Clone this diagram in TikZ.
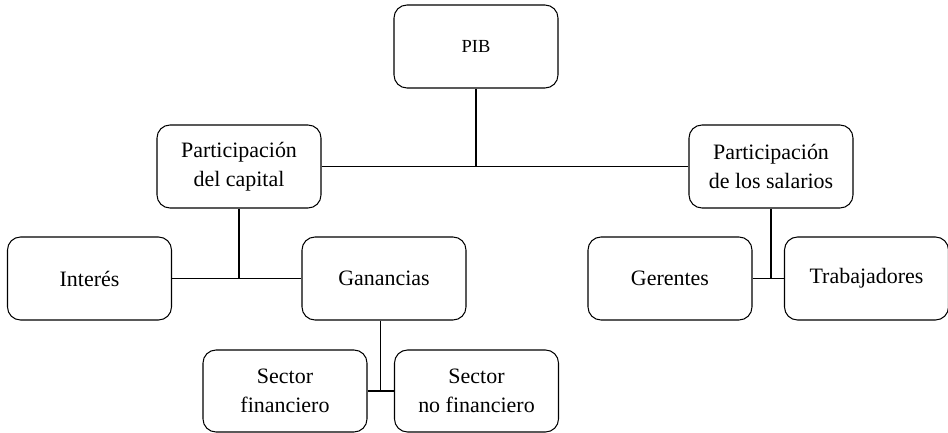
\documentclass[tikz,border=0pt]{standalone}
\usepackage{fontspec}
\setmainfont{Liberation Serif}
\usetikzlibrary{calc}

\begin{document}
\begin{tikzpicture}[
    caja/.style={draw, line width=0.6pt, rounded corners=0.26cm,
      minimum width=3.28cm, minimum height=1.66cm, align=center,
      inner sep=2pt, font=\fontsize{12.5}{16.5}\selectfont},
    enlace/.style={line width=0.6pt}
  ]
  \useasboundingbox (0,0) rectangle (18.96,-8.66);

  \node[caja] (pib) at (9.52,-0.93) {\fontsize{10.5}{12}\selectfont PIB};

  \node[caja] (capital) at (4.78,-3.33) {Participación\\del capital};
  \node[caja] (salarios) at (15.42,-3.33) {Participación\\de los salarios};

  \node[caja] (interes) at (1.79,-5.57) {Interés};
  \node[caja] (ganancias) at (7.68,-5.57) {Ganancias};
  \node[caja] (gerentes) at (13.40,-5.57) {Gerentes};
  \node[caja] (trabajadores) at (17.33,-5.57) {Trabajadores};

  \node[caja, minimum height=1.64cm] (financiero) at (5.70,-7.82) {Sector\\financiero};
  \node[caja, minimum height=1.64cm] (nofinanciero) at (9.53,-7.82) {Sector\\no financiero};

  \draw[enlace] (capital) -- (salarios);
  \draw[enlace] (pib) -- (pib |- capital);

  \draw[enlace] (interes) -- (ganancias);
  \draw[enlace] (capital) -- (capital |- interes);

  \draw[enlace] (gerentes) -- (trabajadores);
  \draw[enlace] (salarios) -- (salarios |- gerentes);

  \coordinate (union) at ($(financiero.east)!.5!(nofinanciero.west)$);
  \draw[enlace] (financiero) -- (nofinanciero);
  \draw[enlace] (union |- ganancias.south) -- (union);
\end{tikzpicture}
\end{document}
